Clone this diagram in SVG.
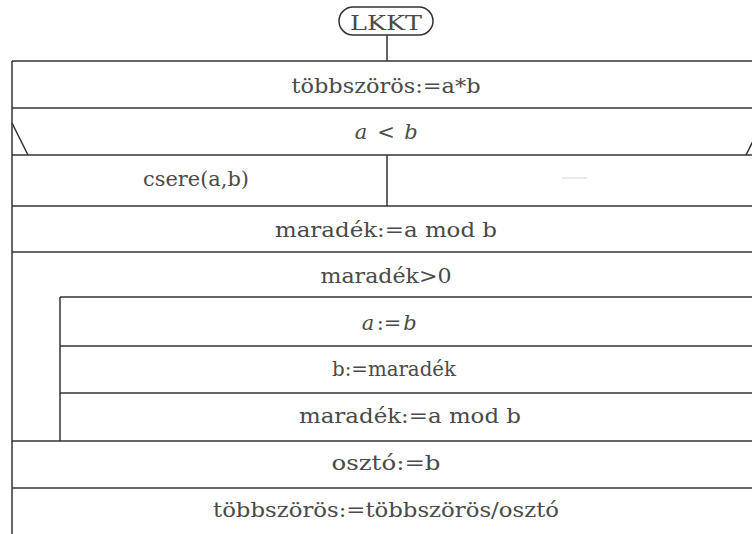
<svg xmlns="http://www.w3.org/2000/svg" width="752" height="534" viewBox="0 0 752 534">
  <style>
    .ln { stroke: #333; stroke-width: 1.5; fill: none; }
    text { font-family: "DejaVu Serif", "Liberation Serif", serif; font-size: 21px; fill: #4a4a4a; text-anchor: middle; }
    .i { font-style: italic; }
  </style>
  <rect x="0" y="0" width="752" height="534" fill="#fff"/>

  <!-- start terminal -->
  <g id="start">
    <rect x="339" y="7" width="94" height="28" rx="14" ry="14" class="ln"/>
    <text x="386" y="30" font-size="20" textLength="72" lengthAdjust="spacingAndGlyphs">LKKT</text>
  </g>

  <g id="connectors">
    <line x1="387" y1="35" x2="387" y2="61" class="ln"/>
  </g>

  <!-- outer frame -->
  <g id="frame">
    <line x1="12" y1="61" x2="12" y2="534" class="ln"/>
    <line x1="12" y1="61" x2="752" y2="61" class="ln"/>
  </g>

  <g id="init">
    <line x1="12" y1="108" x2="752" y2="108" class="ln"/>
    <text x="386" y="93" textLength="189" lengthAdjust="spacingAndGlyphs">többszörös:=a*b</text>
  </g>

  <g id="decision">
    <line x1="12" y1="155" x2="752" y2="155" class="ln"/>
    <line x1="12" y1="123" x2="28" y2="155" class="ln"/>
    <line x1="746" y1="155" x2="754" y2="139" class="ln"/>
    <text x="386" y="139"><tspan class="i" x="361">a</tspan><tspan x="386">&lt;</tspan><tspan class="i" x="411">b</tspan></text>
  </g>

  <g id="branch-yes">
    <line x1="387" y1="155" x2="387" y2="206" class="ln"/>
    <text x="196" y="186" textLength="106" lengthAdjust="spacingAndGlyphs">csere(a,b)</text>
  </g>

  <g id="branch-no">
    <line x1="562" y1="178" x2="587" y2="178" stroke="#e4e4e4" stroke-width="1.5"/>
  </g>

  <g id="rem1">
    <line x1="12" y1="206" x2="752" y2="206" class="ln"/>
    <line x1="12" y1="252" x2="752" y2="252" class="ln"/>
    <text x="386" y="237" textLength="222" lengthAdjust="spacingAndGlyphs">maradék:=a mod b</text>
  </g>

  <g id="loop">
    <text x="386" y="283" textLength="131" lengthAdjust="spacingAndGlyphs">maradék&gt;0</text>
    <line x1="60" y1="297" x2="752" y2="297" class="ln"/>
    <line x1="60" y1="297" x2="60" y2="441" class="ln"/>
  </g>

  <g id="assign-a">
    <line x1="60" y1="346" x2="752" y2="346" class="ln"/>
    <text x="389" y="330"><tspan class="i" x="368">a</tspan><tspan x="389">:=</tspan><tspan class="i" x="410">b</tspan></text>
  </g>

  <g id="assign-b">
    <line x1="60" y1="393" x2="752" y2="393" class="ln"/>
    <text x="394" y="376" textLength="124" lengthAdjust="spacingAndGlyphs">b:=maradék</text>
  </g>

  <g id="rem2">
    <text x="410" y="423" textLength="222" lengthAdjust="spacingAndGlyphs">maradék:=a mod b</text>
  </g>

  <g id="gcd">
    <line x1="12" y1="441" x2="752" y2="441" class="ln"/>
    <line x1="12" y1="488" x2="752" y2="488" class="ln"/>
    <text x="386" y="470" textLength="109" lengthAdjust="spacingAndGlyphs">osztó:=b</text>
  </g>

  <g id="lcm">
    <text x="386" y="517" textLength="346" lengthAdjust="spacingAndGlyphs">többszörös:=többszörös/osztó</text>
  </g>
</svg>
